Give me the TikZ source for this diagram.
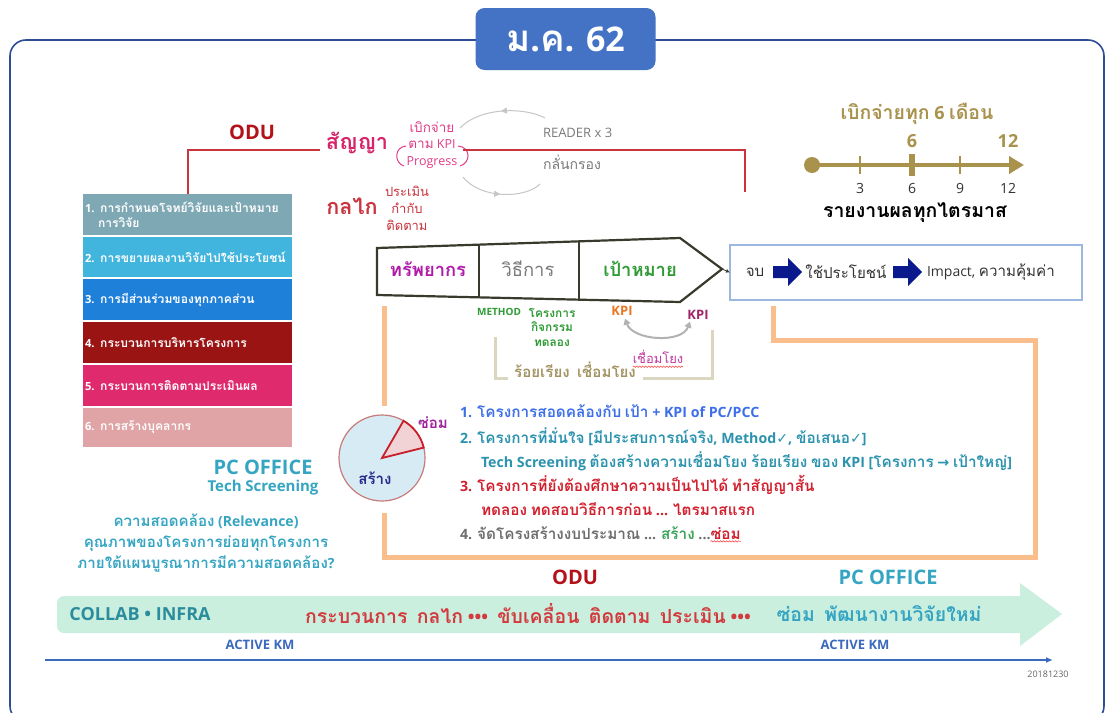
\documentclass[tikz,border=0pt]{standalone}
\usepackage{fontspec}
\setmainfont{Open Sans}
\newfontfamily\thaifont[Script=Thai,Scale=1.08]{Loma}
\newfontfamily\symfont{DejaVu Sans}
\usetikzlibrary{arrows.meta,decorations.pathmorphing,decorations.markings,calc}

% Thai runs are set in Loma automatically
\XeTeXinterchartokenstate=1
\newXeTeXintercharclass\thaiclass
\newcount\thaicnt
\thaicnt="0E00
\loop
  \XeTeXcharclass\thaicnt=\thaiclass
  \advance\thaicnt by 1
\ifnum\thaicnt<"0E80 \repeat
\XeTeXinterchartoks 0 \thaiclass={\begingroup\thaifont}
\XeTeXinterchartoks 4095 \thaiclass={\begingroup\thaifont}
\XeTeXinterchartoks \thaiclass 0={\endgroup}
\XeTeXinterchartoks \thaiclass 4095={\endgroup}

\newcommand\fsz[2]{\fontsize{#1}{#2}\selectfont}

\definecolor{framec}{HTML}{2D4E96}
\definecolor{titleblue}{HTML}{4472C4}
\definecolor{odured}{HTML}{B3121B}
\definecolor{sanyac}{HTML}{D6246B}
\definecolor{kpic}{HTML}{E33D87}
\definecolor{klaic}{HTML}{C9343E}
\definecolor{bA}{HTML}{7FA8B5}
\definecolor{bB}{HTML}{41B5DE}
\definecolor{bC}{HTML}{1F80DA}
\definecolor{bD}{HTML}{9A1414}
\definecolor{bE}{HTML}{DF2B6D}
\definecolor{bF}{HTML}{E0A4A6}
\definecolor{resc}{HTML}{B01BAA}
\definecolor{grayt}{HTML}{7A7A7A}
\definecolor{greenc}{HTML}{2E9B35}
\definecolor{arrowdark}{HTML}{3A3A2C}
\definecolor{boxblue}{HTML}{9DB8E0}
\definecolor{navyc}{HTML}{0A1A8C}
\definecolor{orangec}{HTML}{F9BE8C}
\definecolor{beigec}{HTML}{DBD6C0}
\definecolor{olivet}{HTML}{A39462}
\definecolor{kpio}{HTML}{E87722}
\definecolor{kpip}{HTML}{A0246A}
\definecolor{linkc}{HTML}{C0399E}
\definecolor{piefill}{HTML}{D7EBF5}
\definecolor{pieedge}{HTML}{C77B7B}
\definecolor{wedgec}{HTML}{C8202A}
\definecolor{wedgefill}{HTML}{F2D3D5}
\definecolor{sommc}{HTML}{A0229C}
\definecolor{sangc}{HTML}{262A8A}
\definecolor{lA}{HTML}{3D6FE8}
\definecolor{lB}{HTML}{2B93AE}
\definecolor{lC}{HTML}{D2202E}
\definecolor{lD}{HTML}{6E6E6E}
\definecolor{lDg}{HTML}{3DA35A}
\definecolor{tealc}{HTML}{35A5C2}
\definecolor{bandc}{HTML}{CBEFDF}
\definecolor{collabc}{HTML}{2A8C9C}
\definecolor{bandred}{HTML}{D23A3E}
\definecolor{kmblue}{HTML}{3B69BE}
\definecolor{tlc}{HTML}{A8924C}

\begin{document}
\begin{tikzpicture}[x=1pt,y=-1pt,
  every node/.style={inner sep=0pt,outer sep=0pt},
  lbox/.style={anchor=north west,minimum width=209pt,text width=205pt,inner xsep=2pt,
    align=left,text=white,font=\bfseries\fsz{11.2}{15}},
  big/.style={font=\bfseries\fsz{20}{24}},
  redline/.style={draw=klaic,line width=2pt},
  cyc/.style={draw=gray!45,line width=1pt,postaction={decorate},
    decoration={markings,mark=at position 0.5 with {\arrow{Triangle[length=6pt,width=6pt]}}}},
  item/.style={anchor=west,font=\bfseries\fsz{14.2}{16}},
  band/.style={font=\bfseries\fsz{18}{20}},
  wavy/.style={draw=red!70,line width=0.6pt,decorate,
    decoration={snake,amplitude=0.7pt,segment length=3pt}}]
\useasboundingbox (0,0) rectangle (1107,712);
\fill[white] (0,0) rectangle (1107,712);

% outer frame and title tab
\draw[framec,line width=1.6pt,rounded corners=16pt] (10,40) rectangle (1104,722);
\node[fill=titleblue,rounded corners=9pt,minimum width=180pt,minimum height=62pt,
  text=white,font=\bfseries\fsz{34}{40}] (title) at (565.5,39) {ม.ค. 62};

% contract / mechanism header
\node[big,text=odured] (odu1) at (252,132) {ODU};
\node[big,text=sanyac] (sanya) at (357,143) {สัญญา};
\node[align=center,text=kpic,font=\fsz{12.5}{16.5}] (kpiprog) at (432,145) {เบิกจ่าย\\ตาม KPI\\Progress};
\draw[kpic,line width=1pt] (406,146) .. controls (394,147) and (394,163) .. (404,166);
\draw[kpic,line width=1pt] (458,146) .. controls (471,147) and (471,163) .. (460,166);
\draw[cyc] (545,118) .. controls (525,107) and (480,107) .. (460,128);
\draw[cyc] (463,177) .. controls (480,199) and (525,199) .. (540,184);
\node[anchor=west,text=grayt,font=\fsz{13}{15}] (reader) at (543,133) {READER x 3};
\node[anchor=west,text=grayt,font=\fsz{13}{15}] (screen) at (543,162) {กลั่นกรอง};
\node[big,text=klaic] (klai) at (352,206) {กลไก};
\node[align=center,text=klaic,font=\fsz{12}{17}] (monitor) at (407,208) {ประเมิน\\กำกับ\\ติดตาม};

% six research areas
\node[lbox,fill=bA,minimum height=41pt] (box1) at (83,194) {\mbox{1. การกำหนดโจทย์วิจัยและเป้าหมาย}\\\hspace*{13pt}การวิจัย};
\node[lbox,fill=bB,minimum height=40pt] (box2) at (83,237) {\mbox{2. การขยายผลงานวิจัยไปใช้ประโยชน์}};
\node[lbox,fill=bC,minimum height=41pt] (box3) at (83,279) {\mbox{3. การมีส่วนร่วมของทุกภาคส่วน}};
\node[lbox,fill=bD,minimum height=41pt] (box4) at (83,322) {\mbox{4. กระบวนการบริหารโครงการ}};
\node[lbox,fill=bE,minimum height=41pt] (box5) at (83,365) {\mbox{5. กระบวนการติดตามประเมินผล}};
\node[lbox,fill=bF,minimum height=39pt] (box6) at (83,408) {\mbox{6. การสร้างบุคลากร}};

\draw[redline] (box1.north) |- ($(sanya.west)+(-6,7)$);
\coordinate (redend) at (745,192);
\draw[redline] ($(kpiprog.east)+(6,5)$) -| (redend);

% orange loop
\draw[orangec,line width=5pt] (384,306) -- (384,406);
\draw[orangec,line width=5pt] (384,513) |- (1035,557) |- (773,340) -- (773,306);

% resources -> method -> goal arrow
\draw[arrowdark,line width=2.2pt,line join=miter,fill=white]
  (377,248) -- (680,238) -- (722,269) -- (680,302) -- (377,295) -- cycle;
\draw[arrowdark,line width=1.8pt] (479,244.6) -- (479,297.4);
\draw[arrowdark,line width=1.8pt] (579,241.3) -- (579,299.7);
\coordinate (tip) at (722,269);
\node[font=\bfseries\fsz{17}{20},text=resc] (res) at (428,269) {ทรัพยากร};
\node[font=\fsz{17}{20},text=grayt] (meth) at (528,269) {วิธีการ};
\node[font=\bfseries\fsz{17}{20},text=greenc] (goal) at (640,269) {เป้าหมาย};

% outcomes
\node[draw=boxblue,line width=1.2pt,minimum width=352pt,minimum height=55pt] (outbox) at (906,272.5) {};
\draw[arrowdark,line width=0.8pt,-{Latex[length=4pt,width=4pt]}] (tip) -- (outbox.west);
\node[font=\fsz{14}{18},text=black!80] (end) at (755,272) {จบ};
\fill[navyc,shift={(773,272)}] (0,-6) -- (15,-6) -- (15,-14) -- (29,0) -- (15,14) -- (15,6) -- (0,6) -- cycle;
\node[font=\fsz{14}{18},text=black!80] (use) at (846,272) {ใช้ประโยชน์};
\fill[navyc,shift={(893,272)}] (0,-6) -- (15,-6) -- (15,-14) -- (29,0) -- (15,14) -- (15,6) -- (0,6) -- cycle;
\node[anchor=west,font=\fsz{14}{18},text=black!80] (impact) at (927,272) {Impact, ความคุ้มค่า};

% method / KPI labels
\node[font=\bfseries\fsz{10}{12},text=greenc] (methodl) at (499,312) {METHOD};
\node[align=center,font=\bfseries\fsz{11}{14.5},text=greenc] (proj) at (552,327) {โครงการ\\กิจกรรม\\ทดลอง};
\node[font=\bfseries\fsz{13}{15},text=kpio] (kpiA) at (622,311) {KPI};
\node[font=\bfseries\fsz{13}{15},text=kpip] (kpiB) at (698,315) {KPI};
\draw[gray!60,line width=2pt,{Triangle[length=6pt,width=7pt]}-{Triangle[length=6pt,width=7pt]}]
  ($(kpiA.south)+(3,3)$) .. controls +(8,22) and +(-8,22) .. ($(kpiB.south)+(-8,2)$);
\node[font=\fsz{12}{14},text=linkc] (link) at (658,357) {เชื่อมโยง};
\draw[wavy] ($(link.south west)+(0,3)$) -- ($(link.south east)+(0,3)$);
\draw[beigec,line width=3pt] (495,337) |- (508,378);
\draw[beigec,line width=3pt] (643,378) -| (712,330);
\node[font=\bfseries\fsz{14}{16},text=olivet] (chain) at (575,370) {ร้อยเรียง\ \ เชื่อมโยง};

% build / repair pie
\node[circle,draw=pieedge,fill=piefill,line width=1.2pt,minimum size=86pt] (pie) at (382,458) {};
\filldraw[fill=wedgefill,draw=wedgec,line width=1.8pt,line join=miter]
  (pie.center) -- ++(60:43pt) arc[start angle=60,end angle=14,radius=43pt] -- cycle;
\node[font=\bfseries\fsz{14}{16},text=sommc] (som) at (433,423) {ซ่อม};
\node[font=\bfseries\fsz{14}{16},text=sangc] (sang) at (375,478) {สร้าง};

% screening list
\node[item,text=lA] (it1) at (460,411) {1. โครงการสอดคล้องกับ เป้า + KPI of PC/PCC};
\node[item,text=lB] (it2) at (460,437) {2. โครงการที่มั่นใจ [มีประสบการณ์จริง, Method{\symfont ✓}, ข้อเสนอ{\symfont ✓}]};
\node[item,text=lB] (it2b) at (481,461) {Tech Screening ต้องสร้างความเชื่อมโยง ร้อยเรียง ของ KPI [โครงการ {\symfont →} เป้าใหญ่]};
\node[item,text=lC] (it3) at (460,485) {3. โครงการที่ยังต้องศึกษาความเป็นไปได้ ทำสัญญาสั้น};
\node[item,text=lC] (it3b) at (481,509) {ทดลอง ทดสอบวิธีการก่อน ... ไตรมาสแรก};
\node[item,text=lD] (it4) at (460,533) {4. จัดโครงสร้างงบประมาณ ... \textcolor{lDg}{สร้าง} ...};
\node[anchor=base west,font=\bfseries\fsz{14.2}{16},text=lC] (som2) at (it4.base east) {ซ่อม};
\draw[wavy] ($(som2.south west)+(0,2)$) -- ($(som2.south east)+(0,2)$);

% PC office notes
\node[font=\bfseries\fsz{20}{24},text=tealc] (pc1) at (263,467) {PC OFFICE};
\node[font=\bfseries\fsz{15}{18},text=tealc] (tech) at (263,488) {Tech Screening};
\node[align=center,font=\bfseries\fsz{14}{21},text=tealc] (relev) at (206,543)
  {ความสอดคล้อง (Relevance)\\คุณภาพของโครงการย่อยทุกโครงการ\\ภายใต้แผนบูรณาการมีความสอดคล้อง?};

% bottom band
\node[big,text=odured] (odu2) at (575,577) {ODU};
\node[big,text=tealc] (pc2) at (888,577) {PC OFFICE};
\fill[bandc,rounded corners=7pt] (57,596) rectangle (1030,633);
\fill[bandc] (1000,596) rectangle (1021,633);
\fill[bandc] (1020,583) -- (1062,614) -- (1020,646) -- cycle;
\node[band,text=collabc] (collab) at (140,614) {COLLAB • INFRA};
\node[band,text=bandred] (proc) at (528,614) {กระบวนการ\ \ กลไก\ ••• \ ขับเคลื่อน\ \ ติดตาม\ \ ประเมิน\ •••};
\node[band,text=tealc] (fix) at (879,614) {ซ่อม\ \ พัฒนางานวิจัยใหม่};
\node[font=\bfseries\fsz{13}{15},text=kmblue] (km1) at (260,645) {ACTIVE KM};
\node[font=\bfseries\fsz{13}{15},text=kmblue] (km2) at (855,645) {ACTIVE KM};
\coordinate (kmstart) at (45,660);
\coordinate (kmend) at (1053,660);
\draw[kmblue,line width=2pt,-{Latex[length=7pt,width=6pt]}] (kmstart) -- (kmend);
\node[font=\fsz{9}{10},text=black!60] (date) at (1048,674) {20181230};

% disbursement timeline
\node[font=\bfseries\fsz{18}{20},text=tlc] (pay) at (917,114) {เบิกจ่ายทุก 6 เดือน};
\node[font=\bfseries\fsz{18}{20},text=tlc] (m6) at (912,141) {6};
\node[font=\bfseries\fsz{18}{20},text=tlc] (m12) at (1008,141) {12};
\coordinate (t0) at (812,165);
\coordinate (t1) at (1024,165);
\draw[tlc,line width=4.5pt,-{Triangle[length=15pt,width=17pt]}] (t0) -- (t1);
\fill[tlc] (t0) circle (8pt);
\draw[tlc,line width=1.6pt] (860,156) -- (860,174);
\draw[tlc,line width=1.6pt] (960,156) -- (960,174);
\fill[tlc] (909,154) rectangle (915,176);
\node[font=\fsz{14}{16},text=black!80] (q3) at (860,188) {3};
\node[font=\fsz{14}{16},text=black!80] (q6) at (912,188) {6};
\node[font=\fsz{14}{16},text=black!80] (q9) at (960,188) {9};
\node[font=\fsz{14}{16},text=black!80] (q12) at (1008,188) {12};
\node[font=\bfseries\fsz{18}{20},text=black] (quarter) at (915,213) {รายงานผลทุกไตรมาส};
\end{tikzpicture}
\end{document}
